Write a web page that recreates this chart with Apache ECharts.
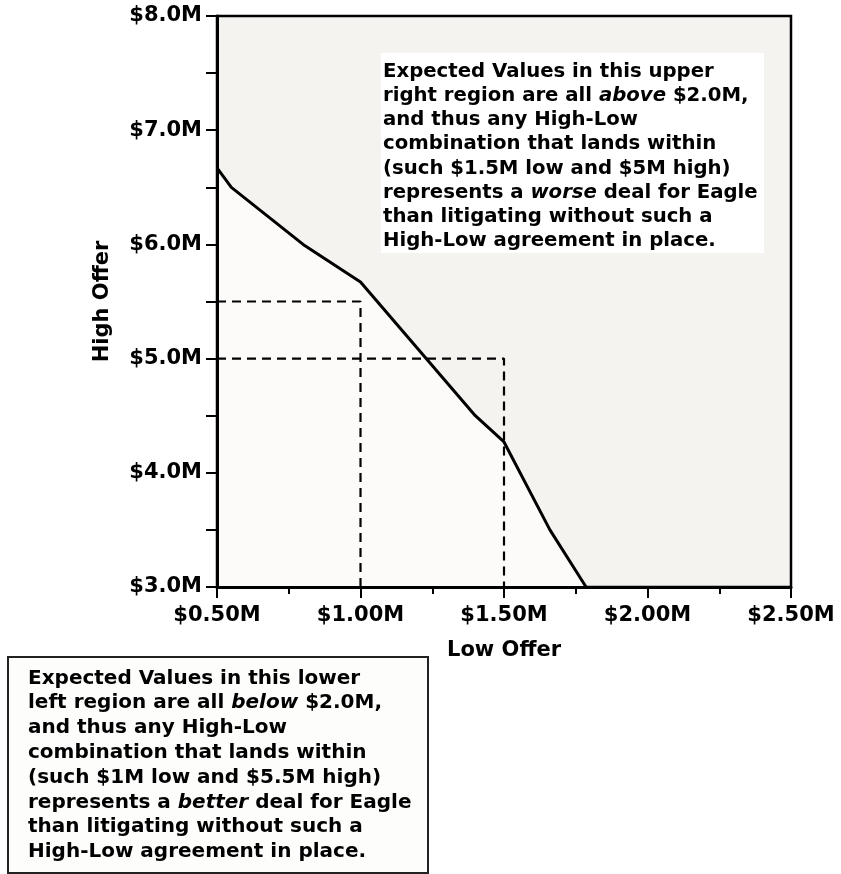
<!DOCTYPE html>
<html><head><meta charset="utf-8">
<script src="https://cdn.jsdelivr.net/npm/echarts@6/dist/echarts.min.js"></script>
<style>html,body{margin:0;padding:0;background:#fff}#c{width:841px;height:874px}</style>
</head><body><div id="c"></div>
<script>
// ---- data ----
const xTicks = [0.5, 1.0, 1.5, 2.0, 2.5];           // Low Offer ($M)
const yTicks = [3, 4, 5, 6, 7, 8];                  // High Offer ($M)
const boundaryLow  = [0.5, 0.55, 0.8, 1.0, 1.4, 1.5, 1.66, 1.786];
const boundaryHigh = [6.67, 6.5, 6.0, 5.67, 4.5, 4.27, 3.5, 3.0];
const exampleLow  = [1.0, 1.5];
const exampleHigh = [5.5, 5.0];
const upperLines = [
  'Expected Values in this upper',
  'right region are all {i|above} $2.0M,',
  'and thus any High-Low',
  'combination that lands within',
  '(such $1.5M low and $5M high)',
  'represents a {i|worse} deal for Eagle',
  'than litigating without such a',
  'High-Low agreement in place.'
];
const lowerLines = [
  'Expected Values in this lower',
  'left region are all {i|below} $2.0M,',
  'and thus any High-Low',
  'combination that lands within',
  '(such $1M low and $5.5M high)',
  'represents a {i|better} deal for Eagle',
  'than litigating without such a',
  'High-Low agreement in place.'
];

// ---- build ----
const FONT = 'DejaVu Sans';
const xMin = xTicks[0], xMax = xTicks[xTicks.length - 1];
const yMin = yTicks[0], yMax = yTicks[yTicks.length - 1];
const boundary = boundaryLow.map((v, i) => [v, boundaryHigh[i]]);
const dashSeries = exampleLow.map((lo, i) => ({
  type: 'line', symbol: 'none', silent: true, z: 4,
  data: [[xMin, exampleHigh[i]], [lo, exampleHigh[i]], [lo, yMin]],
  lineStyle: { color: '#000', width: 2.2, type: [9, 6] }
}));

const chart = echarts.init(document.getElementById('c'), null, { renderer: 'canvas' });
function textStyle(size, lh, lines) {
  return {
    text: lines.join('\n'),
    fontFamily: FONT, fontWeight: 'bold', fontSize: size, lineHeight: lh, fill: '#000',
    rich: { i: { fontFamily: FONT, fontWeight: 'bold', fontStyle: 'italic', fontSize: size, lineHeight: lh } }
  };
}

chart.setOption({
  animation: false,
  backgroundColor: '#ffffff',
  grid: { left: 217, top: 16, right: 50, bottom: 287, show: true,
          backgroundColor: '#f4f3f0', borderColor: '#000', borderWidth: 2.5 },
  xAxis: {
    type: 'value', min: xMin, max: xMax, interval: 0.5, z: 20,
    name: 'Low Offer', nameLocation: 'middle', nameGap: 53,
    nameTextStyle: { fontFamily: FONT, fontWeight: 'bold', fontSize: 21, color: '#000' },
    axisLine: { show: true, lineStyle: { color: '#000', width: 3 } },
    axisTick: { show: true, length: 11, lineStyle: { color: '#000', width: 2 } },
    minorTick: { show: true, splitNumber: 2, length: 7, lineStyle: { color: '#000', width: 2 } },
    splitLine: { show: false },
    axisLabel: { margin: 18, fontFamily: FONT, fontWeight: 'bold', fontSize: 21, color: '#000',
                 formatter: v => '$' + v.toFixed(2) + 'M' }
  },
  yAxis: {
    type: 'value', min: yMin, max: yMax, interval: 1, z: 20,
    name: 'High Offer', nameLocation: 'middle', nameGap: 104, nameRotate: 90,
    nameTextStyle: { fontFamily: FONT, fontWeight: 'bold', fontSize: 21, color: '#000' },
    axisLine: { show: true, lineStyle: { color: '#000', width: 3 } },
    axisTick: { show: true, length: 11, lineStyle: { color: '#000', width: 2 } },
    minorTick: { show: true, splitNumber: 2, length: 11, lineStyle: { color: '#000', width: 2 } },
    splitLine: { show: false },
    axisLabel: { margin: 15, fontFamily: FONT, fontWeight: 'bold', fontSize: 21, color: '#000',
                 formatter: v => '$' + v.toFixed(1) + 'M' }
  },
  series: [
    { type: 'line', symbol: 'none', silent: true, z: 3, data: boundary,
      lineStyle: { color: '#000', width: 3 },
      areaStyle: { color: '#fcfbf9', opacity: 1, origin: 'start' } },
    ...dashSeries
  ],
  graphic: [
    { type: 'rect', left: 381, top: 53, z: 10,
      shape: { width: 383, height: 200 }, style: { fill: '#ffffff' } },
    { type: 'text', left: 383, top: 60, z: 11, style: textStyle(19.7, 24.1, upperLines) },
    { type: 'rect', left: 7, top: 656, z: 10,
      shape: { width: 420, height: 216 }, style: { fill: '#fdfdfc', stroke: '#222', lineWidth: 2 } },
    { type: 'text', left: 28, top: 666, z: 11, style: textStyle(20, 24.8, lowerLines) }
  ]
});
</script></body></html>
